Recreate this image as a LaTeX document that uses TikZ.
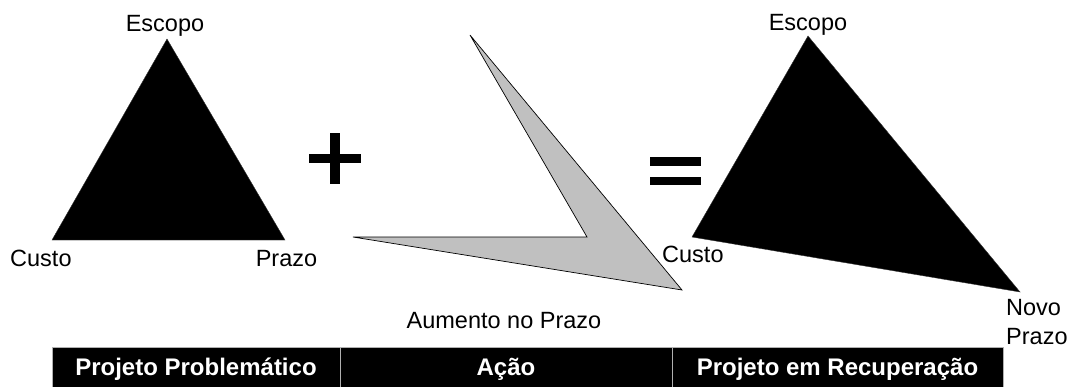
\documentclass[tikz,border=0pt]{standalone}
\usepackage{fontspec}
\setmainfont{Liberation Sans}
\definecolor{arrowgray}{HTML}{C0C0C0}
\definecolor{divgray}{HTML}{B0B0B0}
\tikzset{
  lbl/.style={inner sep=0pt, anchor=base, font=\fontsize{23.5}{29}\selectfont},
  lblw/.style={lbl, anchor=base west},
  cell/.style={fill=black, draw=divgray, line width=1.2pt, minimum height=40pt, inner sep=0pt, anchor=north west},
  celltext/.style={inner sep=0pt, anchor=base, text=white, font=\fontsize{24}{29}\selectfont\bfseries},
  tri/.style={fill=black, draw=black!80, line width=0.4pt},
  act/.style={fill=arrowgray, draw=black, line width=0.7pt, line join=miter},
  sym/.style={fill=black}
}
\begin{document}
\begin{tikzpicture}[x=1pt, y=-1pt]
\useasboundingbox (0,0) rectangle (1069,386);
% left triangle
\coordinate (lA) at (167,39);
\coordinate (lB) at (52,240);
\coordinate (lC) at (285,240);
\fill[tri] (lA) -- (lB) -- (lC) -- cycle;
\node[lbl] (lEsc) at (165,31) {Escopo};
\node[lblw] (lCus) at (10,266) {Custo};
\node[lbl] (lPra) at (286.5,266) {Prazo};
% plus
\fill[sym] (330,133) rectangle (340,184);
\fill[sym] (309,154) rectangle (361,163);
% action arrow
\coordinate (aT) at (470,35);
\coordinate (aR) at (682,290);
\coordinate (aL) at (353,237);
\coordinate (aN) at (587,237);
\filldraw[act] (aT) -- (aR) -- (aL) -- (aN) -- cycle;
\node[lbl] (aum) at (504,328) {Aumento no Prazo};
% equals
\fill[sym] (650,157) rectangle (701,166);
\fill[sym] (650,177) rectangle (701,185);
% right triangle
\coordinate (rA) at (808,36);
\coordinate (rB) at (692,237);
\coordinate (rC) at (1020,292);
\fill[tri] (rA) -- (rB) -- (rC) -- cycle;
\node[lbl] (rEsc) at (808,30) {Escopo};
\node[lblw] (rCus) at (662,262) {Custo};
\node[lblw, align=left, anchor=north west] (rPra) at (1006,299) {Novo\\Prazo};
% bottom bar
\node[cell, minimum width=288pt] (c1) at (52,347) {};
\node[cell, minimum width=332pt] (c2) at (340,347) {};
\node[cell, minimum width=331pt] (c3) at (672,347) {};
\node[celltext] (t1) at (196,375) {Projeto Problemático};
\node[celltext] (t2) at (506,375) {Ação};
\node[celltext] (t3) at (837.5,375) {Projeto em Recuperação};
\end{tikzpicture}
\end{document}
